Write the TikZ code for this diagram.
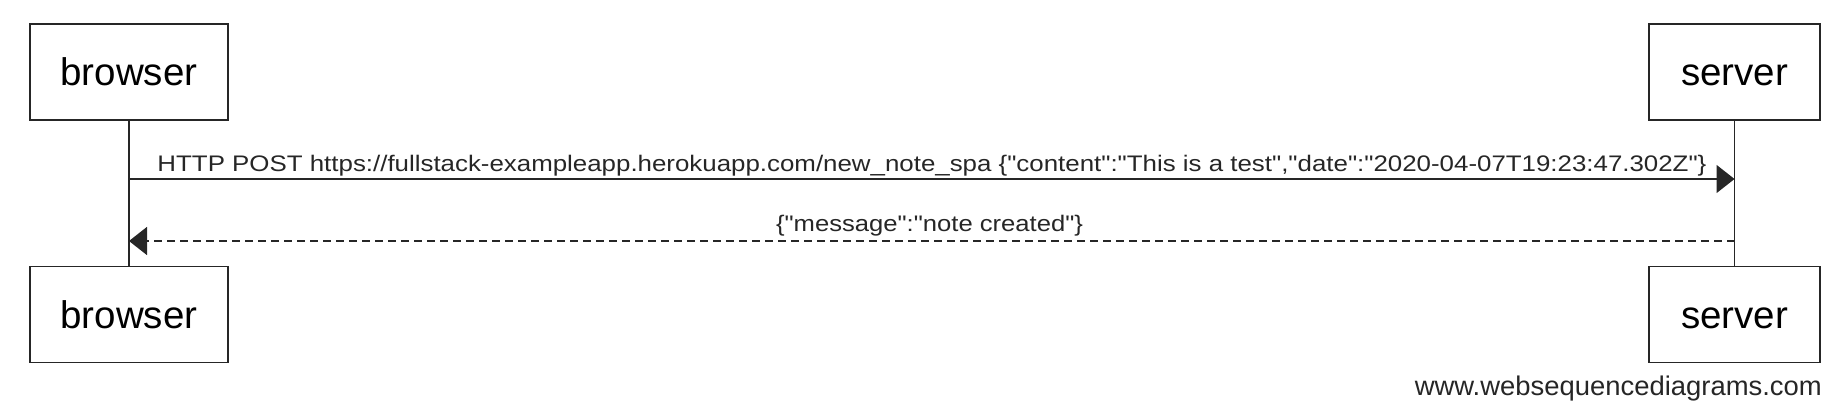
\documentclass[tikz,border=0pt]{standalone}
\usepackage{fontspec}
\setmainfont{Liberation Sans}[Ligatures=TeXOff]
\usetikzlibrary{arrows.meta}
\newlength\fitlen
\newcommand\fitx[2]{\settowidth\fitlen{#2}\pgfmathsetmacro\fitfac{#1/\fitlen}\scalebox{\fitfac}[1]{#2}}
\tikzset{
  actor/.style={draw=black!85, line width=1.6pt, minimum width=#1, minimum height=96pt,
    inner sep=0pt, text height=28pt, text depth=0pt, font=\fontsize{38.5}{44}\selectfont},
  lifeline/.style={draw=black!85, line width=1.6pt},
  msg/.style={draw=black!85, line width=1.4pt, -{Triangle[length=18pt,width=28pt]}},
  reply/.style={msg, dash pattern=on 8pt off 5pt},
  msglabel/.style={anchor=base, inner sep=0pt, text=black!85, font=\fontsize{22.5}{26}\selectfont},
}
\begin{document}
\begin{tikzpicture}[x=1pt,y=-1pt]
\useasboundingbox (0,0) rectangle (1838,406);
\node[actor=198pt] (b1) at (129,72) {browser};
\node[actor=171pt] (s1) at (1734.5,72) {server};
\node[actor=198pt] (b2) at (129,314.5) {browser};
\node[actor=171pt] (s2) at (1734.5,314.5) {server};
\draw[lifeline] (b1.south) -- (b2.north);
\draw[lifeline] (s1.south) -- (s2.north);
\coordinate (bm1) at (b1.south |- 0,179);
\coordinate (sm1) at (s1.south |- 0,179);
\coordinate (bm2) at (b1.south |- 0,241);
\coordinate (sm2) at (s1.south |- 0,241);
\draw[msg] (bm1) -- (sm1);
\draw[reply] (sm2) -- (bm2);
\node[msglabel] (l1) at (932,172) {\fitx{1549}{HTTP POST https://fullstack-exampleapp.herokuapp.com/new\_note\_spa \{"content":"This is a test","date":"2020-04-07T19:23:47.302Z"\}}};
\node[msglabel] (l2) at (929.5,231) {\fitx{307}{\{"message":"note created"\}}};
\node[anchor=base east, inner sep=0pt, text=black!85, font=\fontsize{27}{30}\selectfont] (wm) at (1822,395) {\fitx{407}{www.websequencediagrams.com}};
\end{tikzpicture}
\end{document}
